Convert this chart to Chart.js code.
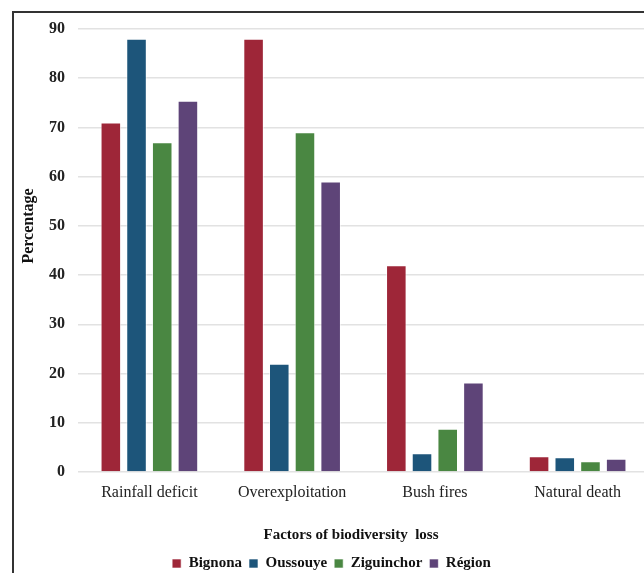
<!DOCTYPE html>
<html>
<head>
<meta charset="utf-8">
<script src="https://cdn.jsdelivr.net/npm/chart.js@4.4.1/dist/chart.umd.min.js"></script>
<style>
  html, body { margin: 0; padding: 0; background: #fff; overflow: hidden; }
  #wrap { position: relative; width: 660px; height: 581px; }
</style>
</head>
<body>
<div id="wrap"><canvas id="myChart"></canvas></div>
<script>
const categories = ["Rainfall deficit", "Overexploitation", "Bush fires", "Natural death"];
const bignona = [71, 88, 42, 3.2];
const oussouye = [88, 22, 3.8, 3.0];
const ziguinchor = [67, 69, 8.8, 2.2];
const region = [75.4, 59, 18.2, 2.7];
const yTicks = [0, 10, 20, 30, 40, 50, 60, 70, 80, 90];

const serif = "'Liberation Serif', 'Times New Roman', serif";

// Frame on the top and left edges, plus the two axis titles
const decorPlugin = {
  id: "decor",
  beforeDraw(chart) {
    const ctx = chart.ctx;
    ctx.save();
    ctx.strokeStyle = "#333";
    ctx.lineWidth = 2;
    ctx.beginPath();
    ctx.moveTo(13, chart.height);
    ctx.lineTo(13, 12);
    ctx.lineTo(chart.width, 12);
    ctx.stroke();
    ctx.restore();
  },
  afterDraw(chart) {
    const ctx = chart.ctx;
    const area = chart.chartArea;
    ctx.save();
    ctx.fillStyle = "#111";
    ctx.textAlign = "center";
    ctx.textBaseline = "middle";
    ctx.font = "bold 15px " + serif;
    ctx.fillText("Factors of biodiversity  loss", 351, area.bottom + 63);
    ctx.font = "bold 16px " + serif;
    ctx.translate(29, area.top + 197);
    ctx.rotate(-Math.PI / 2);
    ctx.fillText("Percentage", 0, 0);
    ctx.restore();
  },
};

function makeSet(label, data, color) {
  return {
    label,
    data,
    backgroundColor: color,
    borderColor: "rgba(255,255,255,0.6)",
    borderWidth: 1,
    barPercentage: 0.8,
    categoryPercentage: 0.72,
  };
}

const ctx = document.getElementById("myChart").getContext("2d");
new Chart(ctx, {
  type: "bar",
  data: {
    labels: categories,
    datasets: [
      makeSet("Bignona", bignona, "rgb(158, 38, 56)"),
      makeSet("Oussouye", oussouye, "rgb(29, 85, 122)"),
      makeSet("Ziguinchor", ziguinchor, "rgb(74, 135, 66)"),
      makeSet("Région", region, "rgb(94, 68, 120)"),
    ],
  },
  options: {
    responsive: true,
    maintainAspectRatio: false,
    animation: false,
    layout: { padding: { left: 14, top: 29, right: 11, bottom: 0 } },
    plugins: {
      tooltip: { enabled: false },
      legend: {
        position: "bottom",
        labels: {
          color: "#111",
          font: { family: serif, size: 15, weight: "bold" },
          boxWidth: 9,
          boxHeight: 9,
          padding: 7,
        },
      },
    },
    scales: {
      x: {
        grid: { display: false },
        border: { display: false },
        ticks: { color: "#222", font: { family: serif, size: 16 }, padding: 3 },
        afterFit(scale) {
          scale.height = 77;
        },
      },
      y: {
        min: 0,
        max: 90,
        afterBuildTicks(scale) {
          scale.ticks = yTicks.map((v) => ({ value: v }));
        },
        afterFit(scale) {
          scale.width = 64;
        },
        grid: { color: "#e2e2e2", lineWidth: 1.5, drawTicks: false },
        border: { display: false },
        ticks: { color: "#222", font: { family: serif, size: 16, weight: "bold" }, padding: 13 },
      },
    },
  },
  plugins: [decorPlugin],
});
</script>
</body>
</html>
